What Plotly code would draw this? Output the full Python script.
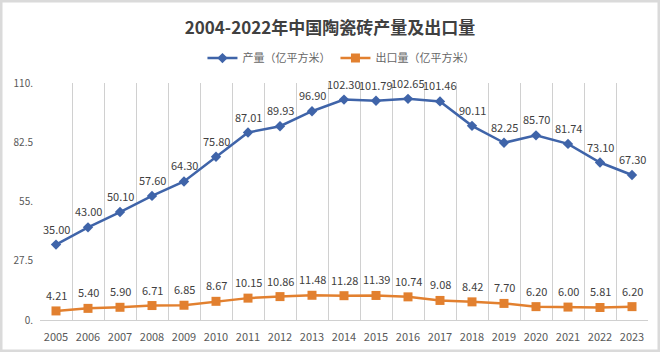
import plotly.graph_objects as go

years = list(range(2005, 2024))
production = [35.00, 43.00, 50.10, 57.60, 64.30, 75.80, 87.01, 89.93, 96.90, 102.30,
              101.79, 102.65, 101.46, 90.11, 82.25, 85.70, 81.74, 73.10, 67.30]
exports = [4.21, 5.40, 5.90, 6.71, 6.85, 8.67, 10.15, 10.86, 11.48, 11.28,
           11.39, 10.74, 9.08, 8.42, 7.70, 6.20, 6.00, 5.81, 6.20]
ytick_vals = [0, 27.5, 55, 82.5, 110]
ytick_text = ["0.", "27.5", "55.", "82.5", "110."]

BLUE = "#3F64A9"
ORANGE = "#E2802F"
FONT = "Noto Sans CJK SC"

fig = go.Figure()
fig.add_trace(go.Scatter(
    x=years, y=production, name="产量（亿平方米）", mode="lines+markers",
    line=dict(color=BLUE, width=2.5),
    marker=dict(symbol="diamond", size=8, color=BLUE),
))
fig.add_trace(go.Scatter(
    x=years, y=exports, name="出口量（亿平方米）", mode="lines+markers",
    line=dict(color=ORANGE, width=2.5),
    marker=dict(symbol="square", size=9, color=ORANGE),
))

annotations = []
for series in (production, exports):
    for x, v in zip(years, series):
        annotations.append(dict(
            x=x, y=v, xref="x", yref="y", text=f"{v:.2f}", showarrow=False,
            yshift=16, font=dict(family=FONT, size=11, color="#404040"),
        ))

fig.update_layout(
    width=660, height=352,
    margin=dict(l=40, r=12, t=83, b=32, autoexpand=False),
    paper_bgcolor="white", plot_bgcolor="white",
    title=dict(text="<b>2004-2022年中国陶瓷砖产量及出口量</b>", x=0.5, xanchor="center",
               y=0.92, yanchor="middle",
               font=dict(family=FONT, size=17, color="#404040")),
    legend=dict(orientation="h", x=0.495, xanchor="center", y=1.105, yanchor="middle",
                font=dict(family=FONT, size=11, color="#666666"),
                itemwidth=30, bgcolor="rgba(0,0,0,0)"),
    annotations=annotations,
    showlegend=True,
    shapes=[dict(type="rect", xref="paper", yref="paper", x0=-39/608, x1=1+11/608,
                 y0=-31/237, y1=1+82/237,
                 line=dict(color="#DADADA", width=3), layer="above")],
)
fig.update_xaxes(
    range=[2004.5, 2023.5], tickmode="array", tickvals=years,
    ticktext=[str(y) for y in years], showgrid=False,
    minor=dict(tickmode="linear", tick0=2004.5, dtick=1, showgrid=True,
               gridcolor="#D0D0D0", gridwidth=1, ticks=""),
    showline=True, linecolor="#D0D0D0", ticks="", zeroline=False,
    ticklabelstandoff=7, automargin=False,
    tickfont=dict(family=FONT, size=11, color="#595959"),
)
fig.update_yaxes(
    range=[0, 110], tickvals=ytick_vals, ticktext=ytick_text, showgrid=False,
    zeroline=False, showline=False, ticks="", ticklabelstandoff=6, automargin=False,
    tickfont=dict(family=FONT, size=10, color="#595959"),
)

fig.write_html("out.html")
